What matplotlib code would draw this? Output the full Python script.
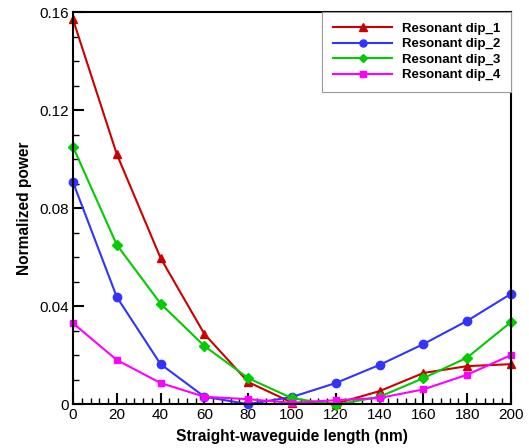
import numpy as np
import matplotlib.pyplot as plt
from matplotlib.ticker import MultipleLocator

plt.rcParams['font.family'] = ['Liberation Sans', 'DejaVu Sans']

# straight-waveguide length (nm)
length = [0, 20, 40, 60, 80, 100, 120, 140, 160, 180, 200]

dip_1 = [0.157, 0.102, 0.0596, 0.0286, 0.009, 0.0006, 0.0002, 0.0053, 0.0127, 0.0155, 0.0163]
dip_2 = [0.0906, 0.0437, 0.0163, 0.003, 0.0, 0.0029, 0.0086, 0.016, 0.0245, 0.034, 0.045]
dip_3 = [0.105, 0.065, 0.041, 0.0237, 0.0106, 0.0024, -0.0003, 0.003, 0.0106, 0.019, 0.0335]
dip_4 = [0.033, 0.018, 0.0086, 0.003, 0.002, 0.0005, 0.0016, 0.0025, 0.006, 0.012, 0.02]

labels = ['Resonant dip_1', 'Resonant dip_2', 'Resonant dip_3', 'Resonant dip_4']
colors = ['#cc0000', '#3333ff', '#00cc00', '#ff00ff']
markers = ['^', 'o', 'D', 's']
msizes = [6, 6, 5, 5]

fig = plt.figure(figsize=(5.29, 4.48), dpi=100)
ax = fig.add_axes([0.138, 0.098, 0.828, 0.875])

for y, lab, c, m, ms in zip([dip_1, dip_2, dip_3, dip_4], labels, colors, markers, msizes):
    ax.plot(length, y, color=c, marker=m, markersize=ms, lw=1.5, label=lab, clip_on=False)

ax.set_xlim(0, 200)
ax.set_ylim(0, 0.16)
ax.xaxis.set_major_locator(MultipleLocator(20))
ax.xaxis.set_minor_locator(MultipleLocator(4))
ax.yaxis.set_minor_locator(MultipleLocator(0.01))
ax.set_yticks([0, 0.04, 0.08, 0.12, 0.16])
ax.set_yticklabels(['0', '0.04', '0.08', '0.12', '0.16'])
ax.tick_params(which='major', direction='in', length=8, width=1.5, labelsize=11,
               top=False, right=False, pad=3)
ax.tick_params(which='minor', direction='in', length=4, width=1, top=False, right=False)
for s in ax.spines.values():
    s.set_linewidth(1.5)

ax.set_xlabel('Straight-waveguide length (nm)', fontsize=11.2, fontweight='bold', labelpad=5)
ax.set_ylabel('Normalized power', fontsize=11.2, fontweight='bold', labelpad=5)

leg = ax.legend(loc='upper right', prop={'weight': 'bold', 'size': 9.5}, markerscale=0.85,
                fancybox=False, framealpha=1, edgecolor='#999999', borderaxespad=0,
                handlelength=4.5, handletextpad=0.75, labelspacing=0.25, borderpad=0.8)
leg.get_frame().set_linewidth(0.8)

fig.savefig('out.png', dpi=100)
